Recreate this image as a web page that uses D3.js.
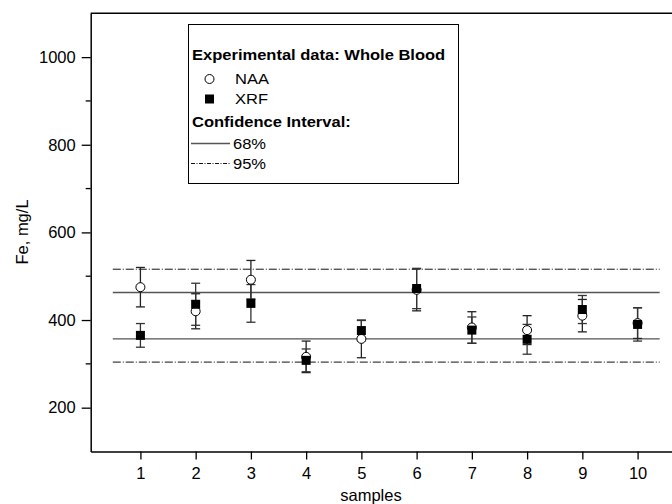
<!DOCTYPE html>
<html>
<head>
<meta charset="utf-8">
<script src="https://cdn.jsdelivr.net/npm/d3@7"></script>
<style>
  body { margin: 0; background: #fff; }
  text { font-family: "Liberation Sans", Arial, sans-serif; }
</style>
</head>
<body>
<div id="chart"></div>
<script>
// Sample numbers on the x axis
const samples = [1, 2, 3, 4, 5, 6, 7, 8, 9, 10];

// NAA values and their uncertainties (mg/L)
const naaValues = [475, 420, 492, 316, 357, 469, 383, 377, 410, 393];
const naaErrors = [45, 40, 44, 36, 43, 48, 36, 33, 37, 35];

// XRF values and their uncertainties (mg/L)
const xrfValues = [365, 436, 438, 308, 376, 472, 377, 356, 424, 390];
const xrfErrors = [27, 48, 43, 26, 23, 46, 30, 34, 32, 38];

// Confidence interval bounds
const ci68 = [357, 463];
const ci95 = [304, 516];
const ciSpan = [0.5, 10.4];

// Axis ticks
const yMajorTicks = [200, 400, 600, 800, 1000];
const yMinorTicks = [300, 500, 700, 900];

const W = 672, H = 504;

const svg = d3.select("#chart").append("svg")
  .attr("width", W)
  .attr("height", H);

const x = d3.scaleLinear().domain([0.1, 10.9]).range([90.7, 687.3]);
const y = d3.scaleLinear().domain([100, 1100]).range([451.5, 13.3]);

// Confidence interval lines
const ciLines = [
  { v: ci95[0], dash: "8,2,1,2" },
  { v: ci95[1], dash: "8,2,1,2" },
  { v: ci68[0], dash: null },
  { v: ci68[1], dash: null }
];
svg.append("g").selectAll("line")
  .data(ciLines)
  .enter().append("line")
  .attr("x1", x(ciSpan[0]))
  .attr("x2", x(ciSpan[1]))
  .attr("y1", d => y(d.v))
  .attr("y2", d => y(d.v))
  .attr("stroke", d => d.dash ? "#111" : "#555")
  .attr("stroke-width", d => d.dash ? 1 : 1.4)
  .attr("stroke-dasharray", d => d.dash);

// Build point rows
const naa = samples.map((s, i) => ({ s, v: naaValues[i], e: naaErrors[i] }));
const xrf = samples.map((s, i) => ({ s, v: xrfValues[i], e: xrfErrors[i] }));

function errorBars(data, color) {
  const g = svg.append("g")
    .attr("stroke", color)
    .attr("stroke-width", 1.3)
    .attr("fill", "none");
  g.selectAll("line.v").data(data).enter().append("line")
    .attr("x1", d => x(d.s)).attr("x2", d => x(d.s))
    .attr("y1", d => y(d.v + d.e)).attr("y2", d => y(d.v - d.e));
  g.selectAll("line.t").data(data).enter().append("line")
    .attr("x1", d => x(d.s) - 4.5).attr("x2", d => x(d.s) + 4.5)
    .attr("y1", d => y(d.v + d.e)).attr("y2", d => y(d.v + d.e));
  g.selectAll("line.b").data(data).enter().append("line")
    .attr("x1", d => x(d.s) - 4.5).attr("x2", d => x(d.s) + 4.5)
    .attr("y1", d => y(d.v - d.e)).attr("y2", d => y(d.v - d.e));
}

errorBars(naa, "#222");
errorBars(xrf, "#333");

// NAA open circles
svg.append("g").selectAll("circle")
  .data(naa)
  .enter().append("circle")
  .attr("cx", d => x(d.s))
  .attr("cy", d => y(d.v))
  .attr("r", 4.5)
  .attr("fill", "#fff")
  .attr("stroke", "#000")
  .attr("stroke-width", 1);

// XRF filled squares
svg.append("g").selectAll("rect")
  .data(xrf)
  .enter().append("rect")
  .attr("x", d => x(d.s) - 4.5)
  .attr("y", d => y(d.v) - 4.5)
  .attr("width", 9)
  .attr("height", 9)
  .attr("fill", "#000");

// Left axis
const yAxis = svg.append("g")
  .attr("transform", `translate(${x(0.1)},0)`)
  .call(d3.axisLeft(y).tickValues(yMajorTicks).tickFormat(d3.format("d"))
    .tickSize(9).tickPadding(6).tickSizeOuter(0));
yAxis.selectAll(".tick line").attr("stroke-width", 1.3);
yAxis.select(".domain").attr("stroke-width", 1.5);
yAxis.selectAll("text").attr("font-size", 16.5).attr("fill", "#000");
yAxis.append("g").selectAll("line")
  .data(yMinorTicks)
  .enter().append("line")
  .attr("x1", -5).attr("x2", 0)
  .attr("y1", d => y(d)).attr("y2", d => y(d))
  .attr("stroke", "#000").attr("stroke-width", 1.3);

// Bottom axis
const xAxis = svg.append("g")
  .attr("transform", `translate(0,${y(100)})`)
  .call(d3.axisBottom(x).tickValues(samples).tickFormat(d3.format("d"))
    .tickSize(8).tickPadding(8).tickSizeOuter(0));
xAxis.selectAll(".tick line").attr("stroke-width", 1.3);
xAxis.select(".domain").attr("stroke-width", 1.5);
xAxis.selectAll("text").attr("font-size", 16.5).attr("fill", "#000");

// Top frame
svg.append("line")
  .attr("x1", x(0.1)).attr("x2", x(10.9))
  .attr("y1", y(1100)).attr("y2", y(1100))
  .attr("stroke", "#000").attr("stroke-width", 1.5);

// Axis titles
svg.append("text")
  .attr("x", 371).attr("y", 501)
  .attr("text-anchor", "middle")
  .attr("font-size", 16.5)
  .text("samples");

svg.append("text")
  .attr("transform", "translate(28,232) rotate(-90)")
  .attr("text-anchor", "middle")
  .attr("font-size", 16.5)
  .text("Fe, mg/L");

// Legend
const lg = svg.append("g");
lg.append("rect")
  .attr("x", 188.5).attr("y", 24.5)
  .attr("width", 270).attr("height", 159)
  .attr("fill", "#fff").attr("stroke", "#000").attr("stroke-width", 1);

function legendText(tx, ty, label, bold) {
  lg.append("text")
    .attr("transform", `translate(${tx},${ty}) scale(1.14,1)`)
    .attr("font-size", 14.5)
    .attr("font-weight", bold ? "bold" : null)
    .text(label);
}

legendText(192, 60, "Experimental data: Whole Blood", true);
lg.append("circle").attr("cx", 209.5).attr("cy", 79)
  .attr("r", 4.5).attr("fill", "#fff").attr("stroke", "#000");
legendText(235, 84, "NAA");
lg.append("rect").attr("x", 205).attr("y", 94.5).attr("width", 9).attr("height", 9).attr("fill", "#000");
legendText(235, 104, "XRF");
legendText(192, 126.5, "Confidence Interval:", true);
lg.append("line").attr("x1", 191).attr("x2", 230).attr("y1", 143.5).attr("y2", 143.5)
  .attr("stroke", "#555").attr("stroke-width", 1.4);
legendText(233, 148.5, "68%");
lg.append("line").attr("x1", 191).attr("x2", 230).attr("y1", 163.5).attr("y2", 163.5)
  .attr("stroke", "#111").attr("stroke-width", 1).attr("stroke-dasharray", "4,1.5,1,1.5");
legendText(233, 168.5, "95%");
</script>
</body>
</html>
